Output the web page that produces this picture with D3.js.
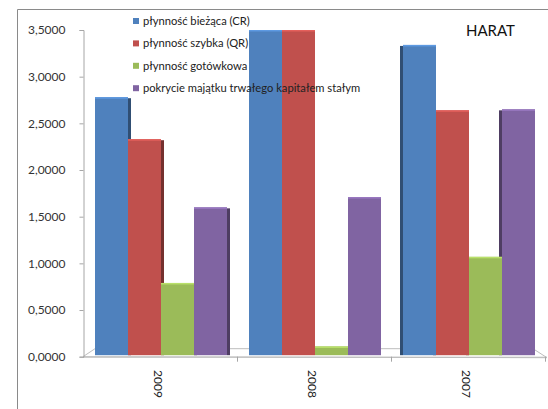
<!DOCTYPE html>
<html><head><meta charset="utf-8">
<script src="https://cdn.jsdelivr.net/npm/d3@7"></script>
<style>body{margin:0;background:#fff}svg{display:block}text{font-family:Lato,"Open Sans",sans-serif}</style>
</head><body><svg id="c" width="548" height="409"></svg>
<script>
const categories = ["2009", "2008", "2007"];
const seriesNames = ["płynność bieżąca (CR)", "płynność szybka (QR)", "płynność gotówkowa", "pokrycie majątku trwałego kapitałem stałym"];
const cr = [2.78, 3.5, 3.34];
const qr = [2.33, 3.5, 2.64];
const cash = [0.79, 0.11, 1.07];
const fixedCover = [1.60, 1.71, 2.65];
const yTicks = [0, 0.5, 1, 1.5, 2, 2.5, 3, 3.5];
const title = "HARAT";
const colors = ["#4F81BD", "#C0504D", "#9BBB59", "#8064A2"];

const values = [cr, qr, cash, fixedCover];
const svg = d3.select("#c");
const fmt = v => d3.format(".4f")(v).replace(".", ",");

const y = d3.scaleLinear().domain([0, 3.5]).range([356.7, 30]).clamp(true);
const x0 = d3.scaleBand().domain(categories).range([83, 545]);
const x1 = d3.scaleBand().domain(d3.range(4)).range([0, x0.bandwidth()]).paddingOuter(1/3);

// outer frame
svg.append("path").attr("d", "M17.5,409 V9.5 H548").attr("fill", "none").attr("stroke", "#8a8a8a");

// floor
const fy = y(0), depthY = 8;
svg.append("path")
  .attr("d", `M83,${fy} L95,${fy - depthY} L533,${fy - depthY} L547,${fy + 1} Z`)
  .attr("fill", "#fff").attr("stroke", "#bdbdbd");
svg.append("line").attr("x1", 83).attr("x2", 547).attr("y1", fy + 0.5).attr("y2", fy + 0.5).attr("stroke", "#bdbdbd");

// y axis
const yAxis = d3.axisLeft(y).tickValues(yTicks).tickFormat(fmt).tickSize(4).tickPadding(14);
const ga = svg.append("g").attr("transform", "translate(83.5,0)").call(yAxis);
ga.select(".domain").attr("stroke", "#a6a6a6");
ga.selectAll(".tick line").attr("stroke", "#a6a6a6");
ga.selectAll("text").attr("font-size", 12).attr("fill", "#333");

// category ticks and labels
svg.selectAll(".ct").data(categories).enter().append("line")
  .attr("x1", c => x0(c) + x0.bandwidth() + 0.5).attr("x2", c => x0(c) + x0.bandwidth() + 0.5)
  .attr("y1", fy).attr("y2", fy + 5).attr("stroke", "#a6a6a6");
svg.selectAll(".cl").data(categories).enter().append("text")
  .attr("transform", c => `translate(${x0(c) + x0.bandwidth() / 2 - 2},370) rotate(90)`)
  .attr("font-size", 12).attr("fill", "#222").attr("dy", "0.35em").text(c => c);

// bars with 3D side
function shade(c, k) { return d3.color(c).darker(k).formatHex(); }
const vanishX = 314;
categories.forEach((cat, ci) => {
  const gx = x0(cat) + 1;
  const centre = gx + x0.bandwidth() / 2;
  const side = Math.round((centre - vanishX) * 0.02);
  let order = d3.range(4);
  if (side > 0) order = order.reverse();
  order.forEach(si => {
    const v = values[si][ci];
    const bx = gx + x1(si), bw = x1.bandwidth();
    const top = y(v), bottom = fy - 1.5;
    const g = svg.append("g");
    if (side !== 0) {
      const sx = side < 0 ? bx + bw : bx - side;
      g.append("rect").attr("x", sx).attr("y", top + 1).attr("width", Math.abs(side))
        .attr("height", bottom - top - 1).attr("fill", shade(colors[si], 1.4));
    }
    g.append("rect").attr("x", bx).attr("y", top).attr("width", bw).attr("height", bottom - top)
      .attr("fill", colors[si]);
    g.append("rect").attr("x", bx).attr("y", top).attr("width", bw).attr("height", 1.5)
      .attr("fill", d3.color(colors[si]).brighter(0.5).formatHex());
  });
});

// legend
const lg = svg.append("g");
seriesNames.forEach((n, i) => {
  const ly = 21 + i * 22.4;
  lg.append("rect").attr("x", 133).attr("y", ly - 3).attr("width", 6).attr("height", 6).attr("fill", colors[i]);
  lg.append("text").attr("x", 143).attr("y", ly).attr("dy", "0.35em").attr("font-size", 11.2).attr("fill", "#222").text(n);
});

// title
svg.append("text").attr("x", 466).attr("y", 31).attr("dy", "0.35em").attr("font-size", 15).attr("fill", "#111").text(title);
</script></body></html>
